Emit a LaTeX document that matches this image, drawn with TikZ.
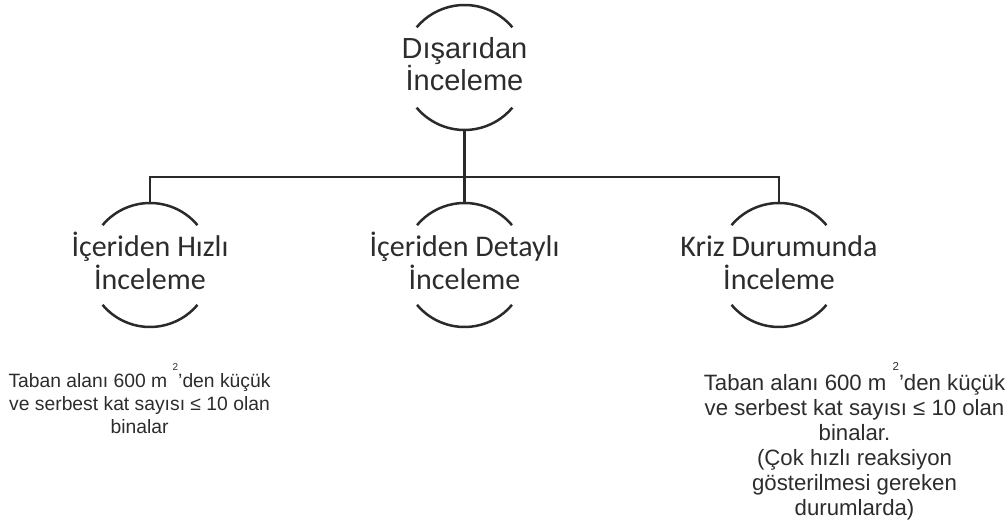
\documentclass[tikz,border=0pt]{standalone}
\usepackage{fontspec}
\setmainfont{Liberation Sans}
\newfontfamily\calibfont{Carlito}
% raised, small "2" of the square-metre unit
\newcommand\sqtwo[2]{\smash{\raisebox{#1}{\fontsize{#2}{#2}\selectfont 2}}}
\definecolor{ink}{HTML}{2A2A2A}
\definecolor{txt}{HTML}{2C2C2C}
\tikzset{
  ring/.style={circle, minimum size=#1, inner sep=0pt, outer sep=0pt},
  ring/.default=124pt,
  rim/.style={draw=ink, line width=2.5pt},
  wire/.style={draw=ink, line width=2.5pt},
  label text/.style={align=center, inner sep=0pt, text=txt, anchor=base},
  toptext/.style={label text, font=\fontsize{29}{28}\selectfont},
  subtext/.style={label text, font=\calibfont\fontsize{30}{33}\selectfont},
  notetext/.style={align=center, inner sep=0pt, text=txt}
}
\begin{document}
\begin{tikzpicture}[x=1pt,y=1pt]
\useasboundingbox (0,0) rectangle (1008,526);

% rings (only their upper and lower arcs are drawn)
\node[ring=125pt] (root) at (464.5,458.5) {};
\node[ring] (quick) at (150,261) {};
\node[ring] (detail) at (464.5,261) {};
\node[ring] (crisis) at (779,261) {};

% labels inside the rings; the base anchor sits on the last line
\node[toptext] (rootlabel) at (464.5,435.3) {Dışarıdan\\İnceleme};
\node[subtext] (quicklabel) at (150,236) {İçeriden Hızlı\\İnceleme};
\node[subtext] (detaillabel) at (464.5,236) {İçeriden Detaylı\\İnceleme};
\node[subtext] (crisislabel) at (779,236) {Kriz Durumunda\\İnceleme};

% open arcs above and below each label
\foreach \n/\r in {root/62.5pt, quick/62pt, detail/62pt, crisis/62pt}{
  \draw[rim] (\n.40) arc[start angle=40, end angle=140, radius=\r];
  \draw[rim] (\n.220) arc[start angle=220, end angle=320, radius=\r];
}

% tree connectors
\coordinate (bus) at (464.5,349);
\draw[wire] (root.south) -- (detail.north);
\draw[wire] (quick.north) |- (bus) -| (crisis.north);

% notes under the outer rings
\node[notetext, anchor=north, font=\fontsize{19.3}{23}\selectfont] (quicknote) at (139.5,153)
  {Taban alanı 600 m \sqtwo{17pt}{10}’den küçük\\ve serbest kat sayısı ≤ 10 olan\\binalar};
\node[notetext, anchor=north, font=\fontsize{22.2}{25}\selectfont] (crisisnote) at (854.5,152)
  {Taban alanı 600 m \sqtwo{19.5pt}{11.5}’den küçük\\ve serbest kat sayısı ≤ 10 olan\\binalar.\\(Çok hızlı reaksiyon\\gösterilmesi gereken\\durumlarda)};
\end{tikzpicture}
\end{document}
